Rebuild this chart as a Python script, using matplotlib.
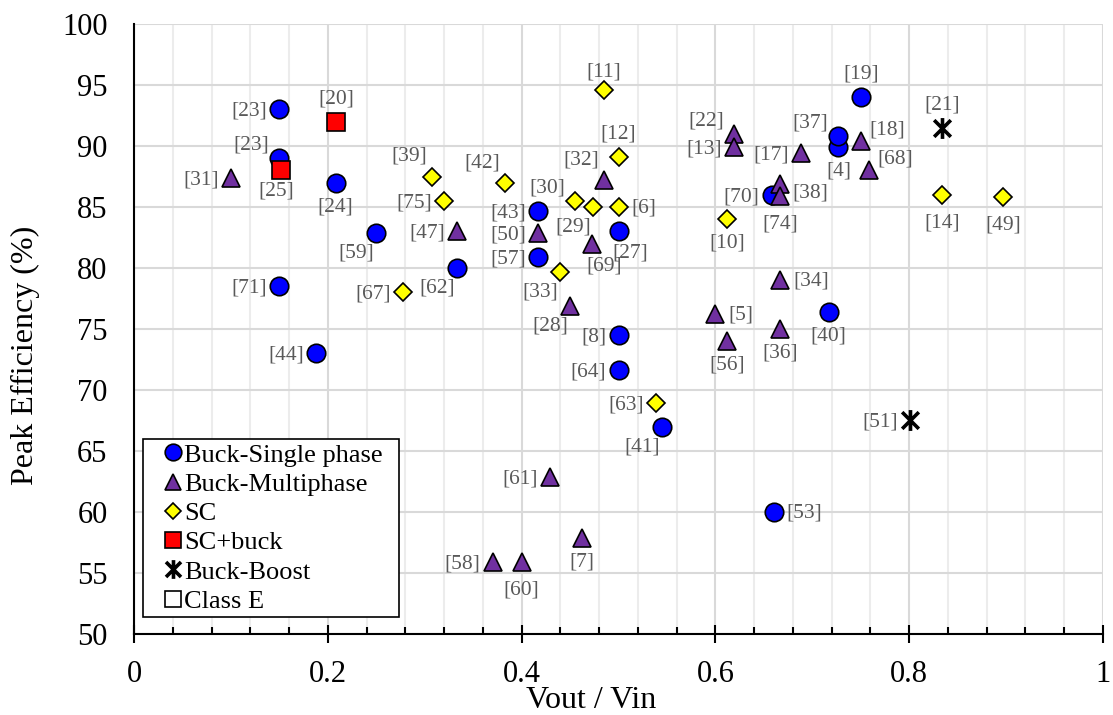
import numpy as np
import matplotlib.pyplot as plt
from matplotlib.path import Path
from matplotlib.ticker import MultipleLocator, FuncFormatter

plt.rcParams['font.family'] = ['Liberation Serif', 'DejaVu Serif']

# Buck - single phase
bs_ref = ['[23]', '[23]', '[24]', '[59]', '[62]', '[71]', '[44]', '[43]', '[57]', '[27]',
          '[8]', '[64]', '[41]', '[53]', '[40]', '[70]', '[4]', '[37]', '[19]']
bs_x = [0.15, 0.15, 0.208, 0.25, 0.333, 0.15, 0.188, 0.417, 0.417, 0.5,
        0.5, 0.5, 0.545, 0.66, 0.717, 0.658, 0.727, 0.727, 0.75]
bs_y = [93, 89, 87, 82.9, 80, 78.5, 73, 84.7, 80.9, 83,
        74.5, 71.6, 67, 60, 76.4, 86, 89.9, 90.8, 94]

# Buck - multiphase
bm_ref = ['[31]', '[47]', '[50]', '[32]', '[69]', '[28]', '[22]', '[13]', '[17]', '[18]',
          '[68]', '[38]', '[74]', '[34]', '[5]', '[56]', '[36]', '[61]', '[7]', '[58]', '[60]']
bm_x = [0.1, 0.333, 0.417, 0.485, 0.473, 0.45, 0.619, 0.619, 0.688, 0.75,
        0.758, 0.667, 0.667, 0.667, 0.6, 0.612, 0.667, 0.429, 0.462, 0.37, 0.4]
bm_y = [87.4, 83, 82.9, 87.2, 82, 76.9, 91, 89.9, 89.4, 90.4,
        88, 86.9, 85.9, 79, 76.2, 74, 75, 62.9, 57.9, 55.9, 55.9]

# SC
sc_ref = ['[39]', '[75]', '[67]', '[42]', '[30]', '[29]', '[6]', '[11]', '[12]', '[33]',
          '[10]', '[14]', '[49]', '[63]']
sc_x = [0.308, 0.32, 0.278, 0.383, 0.455, 0.474, 0.5, 0.485, 0.5, 0.44,
        0.612, 0.834, 0.897, 0.539]
sc_y = [87.5, 85.5, 78, 87, 85.5, 85, 85, 94.6, 89.1, 79.7,
        84, 86, 85.8, 68.9]

# SC + buck
scb_ref = ['[20]', '[25]']
scb_x = [0.2085, 0.152]
scb_y = [92, 88]

# Buck-Boost
bb_ref = ['[21]', '[51]']
bb_x = [0.834, 0.801]
bb_y = [91.5, 67.5]

# label placement codes (layout only)
bs_pos = ['l', 'al', 'b', 'bl', 'bl', 'l', 'l', 'l', 'l', 'br',
          'l', 'l', 'bl', 'r', 'b', 'l', 'b', 'al', 'a']
bm_pos = ['l', 'l', 'l', 'ual', 'br', 'bl', 'al', 'l', 'l', 'ar',
          'ar', 'rb', 'bb', 'r', 'r', 'b', 'b', 'l', 'b', 'l', 'bb']
sc_pos = ['ual', 'l', 'l', 'ual', 'al', 'bl', 'r', 'a2', 'a', 'bl',
          'b', 'bb', 'bb', 'l']
scb_pos = ['a', 'bc']
bb_pos = ['a', 'l']

# (dx, dy) in pixels, dy positive downwards
OFFS = {'l': (-12, 2, 'right'), 'r': (13, 1, 'left'),
        'a': (0, -23, 'center'), 'a2': (0, -18, 'center'),
        'b': (0, 24, 'center'), 'bb': (0, 28, 'center'),
        'al': (-10, -13, 'right'), 'ual': (-5, -20, 'right'),
        'bl': (-2, 20, 'right'), 'bc': (-5, 21, 'center'),
        'br': (12, 22, 'center'), 'ar': (9, -11, 'left'),
        'rb': (12, 9, 'left')}

star_path = Path([(-1, -1), (1, 1), (-1, 1), (1, -1), (0, -1.25), (0, 1.25)],
                 [Path.MOVETO, Path.LINETO] * 3)

fig = plt.figure(figsize=(11.13, 7.15), dpi=100)
ax = fig.add_axes([134 / 1113, 1 - 634 / 715, 969 / 1113, 610 / 715])

ax.plot(bs_x, bs_y, ls='none', marker='o', ms=13.3, mfc='#0000ff', mec='black', mew=1.2,
        label='Buck-Single phase', zorder=3)
ax.plot(bm_x, bm_y, ls='none', marker='^', ms=13.3, mfc='#7030a0', mec='black', mew=1.2,
        label='Buck-Multiphase', zorder=3)
ax.plot(sc_x, sc_y, ls='none', marker='D', ms=9.5, mfc='#ffff00', mec='black', mew=1.2,
        label='SC', zorder=3)
ax.plot(scb_x, scb_y, ls='none', marker='s', ms=13.3, mfc='#ff0000', mec='black', mew=1.2,
        label='SC+buck', zorder=3)
ax.plot(bb_x, bb_y, ls='none', marker=star_path, ms=15, mfc='none', mec='black', mew=2.6,
        label='Buck-Boost', zorder=3)
ax.plot([], [], ls='none', marker='s', ms=13.3, mfc='white', mec='black', mew=1.2,
        label='Class E')

for refs, xs, ys, pos in [(bs_ref, bs_x, bs_y, bs_pos), (bm_ref, bm_x, bm_y, bm_pos),
                          (sc_ref, sc_x, sc_y, sc_pos), (scb_ref, scb_x, scb_y, scb_pos),
                          (bb_ref, bb_x, bb_y, bb_pos)]:
    for r, x, y, p in zip(refs, xs, ys, pos):
        dx, dy, ha = OFFS[p]
        ax.annotate(r, (x, y), xytext=(dx, -dy), textcoords='offset pixels',
                    ha=ha, va='center', fontsize=15.5, color='#595959', zorder=4)

ax.set_xlim(0, 1)
ax.set_ylim(50, 100)
ax.xaxis.set_major_locator(MultipleLocator(0.2))
ax.xaxis.set_minor_locator(MultipleLocator(0.04))
ax.yaxis.set_major_locator(MultipleLocator(5))
ax.xaxis.set_major_formatter(FuncFormatter(lambda v, p: '%g' % v))

ax.grid(which='minor', axis='x', color='#ececec', lw=1.5)
ax.grid(which='major', axis='x', color='#d9d9d9', lw=1.5)
ax.grid(which='major', axis='y', color='#d9d9d9', lw=1.5)
ax.set_axisbelow(True)

for s in ['top', 'right']:
    ax.spines[s].set_visible(False)
for s in ['left', 'bottom']:
    ax.spines[s].set_linewidth(1.5)

ax.tick_params(axis='x', which='major', direction='inout', length=13, width=1.5,
               labelsize=22, pad=12)
ax.tick_params(axis='x', which='minor', direction='in', length=5, width=1.5)
ax.tick_params(axis='y', which='both', length=0, labelsize=22, pad=19)

ax.set_xlabel('Vout / Vin', fontsize=23)
ax.set_ylabel('Peak Efficiency (%)', fontsize=23)
ax.xaxis.set_label_coords(0.4716, -0.086)
ax.yaxis.set_label_coords(-0.097, 0.456)

leg = ax.legend(loc='lower left', bbox_to_anchor=(0.0093, 0.028, 256 / 969, 0.4),
                mode='expand', borderaxespad=0,
                frameon=True, fancybox=False, edgecolor='black', framealpha=1,
                fontsize=19, handlelength=2.0, handletextpad=-0.6, labelspacing=0.22,
                borderpad=0.15, markerscale=0.9)
leg.get_frame().set_linewidth(1.2)

fig.savefig('out.png', dpi=100)
